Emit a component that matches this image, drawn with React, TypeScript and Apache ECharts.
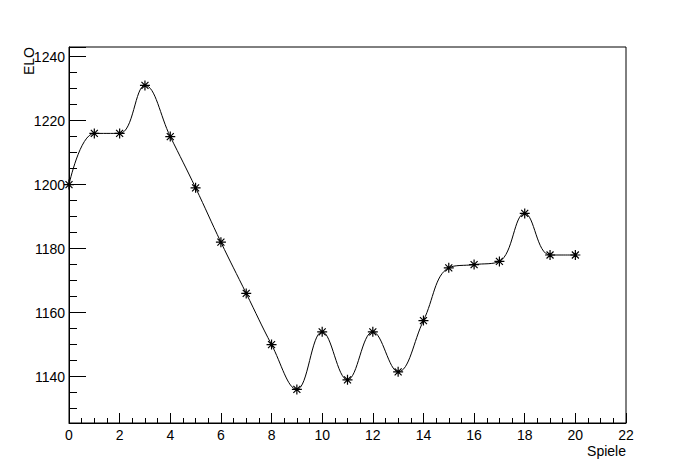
import React, { useEffect, useRef } from "react";
import * as echarts from "echarts";

const games = [0, 1, 2, 3, 4, 5, 6, 7, 8, 9, 10, 11, 12, 13, 14, 15, 16, 17, 18, 19, 20];
const elo = [1200, 1216, 1216, 1231, 1215, 1199, 1182, 1166, 1150, 1136, 1154, 1139, 1154, 1141.5, 1157.5, 1174, 1175, 1176, 1191, 1178, 1178];
const xTitle = "Spiele";
const yTitle = "ELO";

const FONT = "Liberation Sans";

export default function App() {
  const ref = useRef<HTMLDivElement>(null);
  useEffect(() => {
    if (!ref.current) return;
    const chart = echarts.init(ref.current, undefined, { renderer: "svg" });
    const data = games.map((g, i) => [g, elo[i]]);
    chart.setOption({
      animation: false,
      backgroundColor: "#ffffff",
      grid: {
        left: 69,
        right: 70,
        top: 47,
        bottom: 49,
        show: true,
        borderColor: "#000",
        borderWidth: 1,
        backgroundColor: "transparent",
      },
      xAxis: {
        type: "value",
        min: 0,
        max: 22,
        interval: 2,
        axisLine: { show: true, lineStyle: { color: "#000", width: 1 } },
        axisTick: { show: true, inside: true, length: 10, lineStyle: { color: "#000", width: 1 } },
        minorTick: { show: true, splitNumber: 4, length: 5, lineStyle: { color: "#000", width: 1 } },
        splitLine: { show: false },
        axisLabel: { color: "#000", fontFamily: FONT, fontSize: 14, margin: 5 },
      },
      yAxis: {
        type: "value",
        min: 1125.5,
        max: 1243,
        splitNumber: 5,
        axisLine: { show: true, lineStyle: { color: "#000", width: 1 } },
        axisTick: { show: true, inside: true, length: 17, lineStyle: { color: "#000", width: 1 } },
        minorTick: { show: true, splitNumber: 4, length: 8, lineStyle: { color: "#000", width: 1 } },
        splitLine: { show: false },
        axisLabel: {
          color: "#000",
          fontFamily: FONT,
          fontSize: 14,
          margin: 4,
          showMinLabel: false,
          showMaxLabel: false,
          formatter: (v: number) => String(v),
        },
      },
      graphic: [
        {
          type: "text",
          x: 36,
          y: 47,
          rotation: Math.PI / 2,
          style: {
            text: yTitle,
            fontFamily: FONT,
            fontSize: 14,
            fill: "#000",
            align: "right",
            verticalAlign: "bottom",
          },
        },
        {
          type: "text",
          x: 626,
          y: 451,
          style: {
            text: xTitle,
            fontFamily: FONT,
            fontSize: 14,
            fill: "#000",
            align: "right",
            verticalAlign: "middle",
          },
        },
      ],
      series: [
        {
          type: "line",
          data,
          smooth: 0.4,
          symbol: "path://M5,0L5,10M0,5L10,5M1.5,1.5L8.5,8.5M1.5,8.5L8.5,1.5",
          symbolSize: 10,
          showAllSymbol: true,
          lineStyle: { color: "#000", width: 1 },
          itemStyle: { color: "#000", borderColor: "#000", borderWidth: 1.2 },
          emphasis: { disabled: true },
        },
      ],
    });
    return () => chart.dispose();
  }, []);
  return (
    <div
      ref={ref}
      style={{ position: "absolute", left: 0, top: 0, width: 696, height: 472, background: "#fff" }}
    />
  );
}
